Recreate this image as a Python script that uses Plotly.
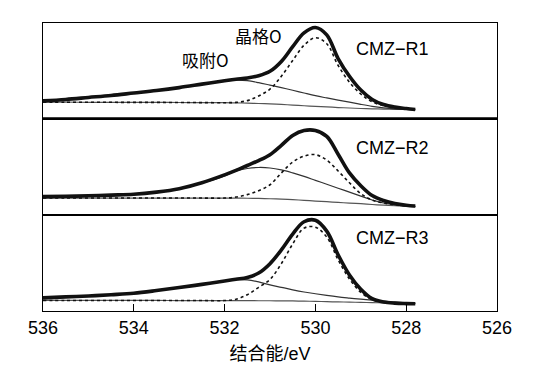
import plotly.graph_objects as go
from plotly.subplots import make_subplots

# Binding energy grid (eV)
energy = [536, 535.5, 535, 534.5, 534, 533.5, 533, 532.5, 532, 531.75, 531.5, 531.25, 531,
          530.75, 530.5, 530.25, 530, 529.75, 529.5, 529.25, 529, 528.75, 528.5, 528.25, 528, 527.8]

# CMZ-R1
r1_data = [18, 19.5, 21.5, 23.5, 26, 28.5, 31.5, 35, 38.5, 40, 41.3, 43.5, 48,
           58, 73, 87, 92.5, 85, 61, 43, 29, 19.5, 14.3, 11.7, 10.3, 9.3]
r1_ads = [18, 19.5, 21.5, 23.5, 26, 28.5, 31.5, 35, 38, 39, 38.5, 36.5, 34,
          31.5, 28.8, 26, 23.3, 21, 18.8, 16.7, 14.5, 12.5, 11, 10, 9.5, 9.2]
r1_lat = [16.7, 16.7, 16.6, 16.6, 16.5, 16.5, 16.4, 16.3, 16.2, 16.5, 18.3, 23, 30,
          43, 59, 74.5, 82, 76, 54, 37, 25, 17, 13.3, 11.3, 10.1, 9.3]
r1_bg = [16.7, 16.7, 16.6, 16.6, 16.5, 16.5, 16.4, 16.3, 16.2, 16, 15.8, 15.4, 15,
         14.4, 13.8, 13.1, 12.5, 11.9, 11.3, 10.8, 10.3, 10, 9.7, 9.5, 9.3, 9.2]

# CMZ-R2
r2_data = [19, 19.3, 19.8, 20.5, 21.3, 23.5, 27, 33, 41, 45.5, 50.5, 55.5, 61.5,
           71, 81, 86, 86, 80, 62, 43, 30, 20, 15, 12, 10.3, 9.5]
r2_ads = [19, 19.3, 19.8, 20.5, 21.3, 23.3, 26.5, 32.5, 40, 45, 47.5, 48.5, 48,
          46, 43, 39.5, 35.5, 31.5, 27.5, 23.5, 19.5, 15.5, 12.5, 10.5, 9.4, 8.9]
r2_lat = [17.5, 17.5, 17.5, 17.5, 17.5, 17.5, 17.5, 17.5, 17.5, 18.5, 21, 25, 31,
          43, 54, 60, 61.5, 56, 45, 33, 22, 15.5, 12.5, 10.8, 9.8, 9.2]
r2_bg = [17.5, 17.5, 17.5, 17.5, 17.5, 17.5, 17.5, 17.5, 17.5, 17.4, 17.3, 17.1, 16.8,
         16.4, 15.9, 15.2, 14.5, 13.8, 13.1, 12.4, 11.8, 11, 10.3, 9.7, 9.2, 8.8]

# CMZ-R3
r3_data = [13.3, 14.3, 15.2, 16.5, 18, 20.7, 23.8, 27, 30.5, 32.2, 34, 38.5, 48,
           62, 78, 90.5, 92, 81, 57, 36.5, 22, 12.5, 9.2, 8, 7.5, 7.3]
r3_ads = [13.3, 14.3, 15.2, 16.5, 18, 20.7, 23.8, 27, 30.3, 31.7, 31.5, 29.5, 26.5,
          24, 21.5, 19.3, 17.5, 15.8, 14.3, 13.1, 12, 11, 10, 9, 8.2, 7.7]
r3_lat = [10.7, 10.7, 10.7, 10.7, 10.7, 10.7, 10.6, 10.6, 10.6, 12, 16.5, 24, 32,
          48, 68, 84, 85, 75, 52, 32.5, 19, 11.5, 8.8, 7.8, 7.4, 7.2]
r3_bg = [10.7, 10.7, 10.7, 10.7, 10.7, 10.7, 10.6, 10.6, 10.6, 10.5, 10.5, 10.4, 10.4,
         10.3, 10.2, 10, 9.8, 9.5, 9.2, 9, 8.7, 8.5, 8.2, 8, 7.7, 7.5]

sample_labels = ["CMZ\u2212R1", "CMZ\u2212R2", "CMZ\u2212R3"]
tick_values = [536, 534, 532, 530, 528, 526]
tick_labels = ["536", "534", "532", "530", "528", "526"]

panels = [
    (r1_data, r1_ads, r1_lat, r1_bg),
    (r2_data, r2_ads, r2_lat, r2_bg),
    (r3_data, r3_ads, r3_lat, r3_bg),
]

fig = make_subplots(rows=3, cols=1, shared_xaxes=True, vertical_spacing=0)

for i, (d, a, l, b) in enumerate(panels, start=1):
    fig.add_trace(go.Scatter(x=energy, y=b, mode="lines",
                             line=dict(color="#555555", width=1.2, shape="spline"),
                             showlegend=False, hoverinfo="skip"), row=i, col=1)
    fig.add_trace(go.Scatter(x=energy, y=a, mode="lines",
                             line=dict(color="#333333", width=1.2, shape="spline"),
                             showlegend=False, hoverinfo="skip"), row=i, col=1)
    fig.add_trace(go.Scatter(x=energy, y=l, mode="lines",
                             line=dict(color="#111111", width=1.6, dash="dot", shape="spline"),
                             showlegend=False, hoverinfo="skip"), row=i, col=1)
    fig.add_trace(go.Scatter(x=energy, y=d, mode="lines",
                             line=dict(color="#111111", width=3.6, shape="spline"),
                             showlegend=False, hoverinfo="skip"), row=i, col=1)

H = 292.0
domains = [(195 / H, 1.0), (97 / H, 195 / H), (0.0, 97 / H)]
yranges = [[0, 97], [0, 98], [0, 97]]

for i in range(3):
    yname = "yaxis" if i == 0 else f"yaxis{i+1}"
    fig.layout[yname].update(domain=list(domains[i]), range=yranges[i],
                             showticklabels=False, ticks="", showgrid=False,
                             zeroline=False, showline=True, mirror=True,
                             linecolor="black", linewidth=1.3)
    xname = "xaxis" if i == 0 else f"xaxis{i+1}"
    fig.layout[xname].update(range=[536, 526], showgrid=False, zeroline=False,
                             showline=True, mirror=True, linecolor="black", linewidth=1.3,
                             ticks="", showticklabels=False)

fig.layout.xaxis3.update(ticks="inside", ticklen=7, tickwidth=1.2, tickcolor="black",
                         tickvals=tick_values, ticktext=tick_labels, showticklabels=True,
                         tickfont=dict(size=18, color="black",
                                       family="Liberation Sans, Arial, sans-serif"),
                         title=dict(text="结合能/eV", standoff=10,
                                    font=dict(size=18, color="black",
                                              family="Liberation Sans, Noto Sans CJK SC, sans-serif")))

# thicker separator between first and second panel
fig.add_shape(type="line", xref="paper", yref="paper", x0=0, x1=1,
              y0=195 / H, y1=195 / H, line=dict(color="black", width=2.6))

label_font = dict(size=18, color="black", family="Liberation Sans, Arial, sans-serif")
label_pos = [71, 68, 74]
for i, txt in enumerate(sample_labels):
    yref = "y" if i == 0 else f"y{i+1}"
    xref = "x" if i == 0 else f"x{i+1}"
    fig.add_annotation(x=529.15, y=label_pos[i], xref=xref, yref=yref, text=txt,
                       showarrow=False, xanchor="left", yanchor="middle", font=label_font)

cjk_font = dict(size=17, color="black", family="Noto Sans CJK SC, Liberation Sans, sans-serif")
fig.add_annotation(x=531.25, y=84.5, xref="x", yref="y", text="晶格O", showarrow=False,
                   xanchor="center", yanchor="middle", font=cjk_font)
fig.add_annotation(x=532.43, y=59.5, xref="x", yref="y", text="吸附O", showarrow=False,
                   xanchor="center", yanchor="middle", font=cjk_font)

fig.update_layout(width=543, height=372, margin=dict(l=43, r=46, t=23, b=57),
                  plot_bgcolor="white", paper_bgcolor="white", showlegend=False)

fig.write_html("out.html", config={"displayModeBar": False},
               post_script="document.body.style.margin='0';")
